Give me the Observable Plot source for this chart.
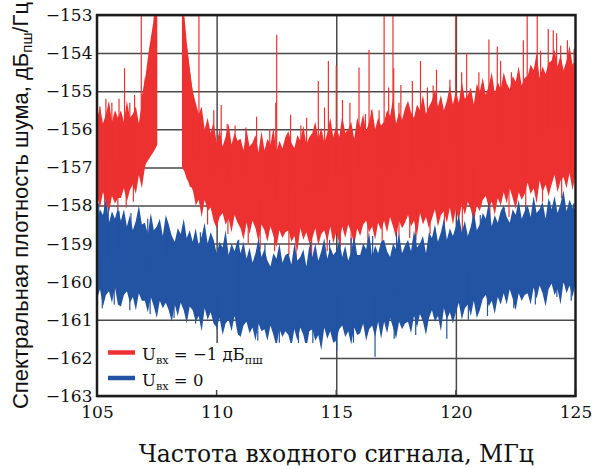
<!DOCTYPE html>
<html>
<head>
<meta charset="utf-8">
<script src="https://cdn.jsdelivr.net/npm/d3@7"></script>
<script src="https://cdn.jsdelivr.net/npm/@observablehq/plot@0.6"></script>
<style>
  body { margin: 0; background: #fff; }
  svg { display: block; }
</style>
</head>
<body>
<div id="chart"></div>
<script>
// Frequency grid of the band edges: 105 MHz, then every 0.125 MHz (one row = 1 MHz)
const freqStart = 105;
const freqStep = 0.125;

// Input at -1 dBFS: upper edge of the noise band, dBFS/Hz (null where the carrier is off scale)
const redHi = [
  -155.75, -155.4, -155.85, -155.6, -155.25, -155.8, -155.5, -155.7,
  -155.5, -155.8, -155.25, -155.7, -155.6, -155.4, -155.85, -155.3,
  -154.6, null, null, null, null, null, null, null,
  null, null, null, null, null, null, -153.8, -154.4,
  -155.0, -155.3, -155.6, -155.4, -156.0, -155.7, -156.1, -155.8,
  -156.35, -156.0, -156.45, -156.2, -155.85, -156.4, -156.1, -156.3,
  -156.25, -156.55, -156.0, -156.45, -156.35, -156.15, -156.6, -156.05,
  -156.55, -156.25, -156.4, -155.95, -156.6, -156.3, -156.5, -156.2,
  -156.05, -156.35, -156.5, -156.15, -156.3, -155.9, -156.4, -156.2,
  -156.1, -155.8, -156.25, -155.95, -156.35, -156.1, -155.7, -156.2,
  -155.9, -156.2, -155.65, -156.1, -156.0, -155.8, -156.25, -155.7,
  -155.95, -155.6, -156.05, -155.8, -155.45, -156.0, -155.7, -155.9,
  -155.8, -155.5, -155.65, -155.2, -155.85, -155.55, -155.75, -155.45,
  -155.25, -155.55, -155.7, -155.35, -155.5, -155.1, -155.6, -155.4,
  -155.25, -154.95, -155.4, -155.1, -155.5, -155.25, -154.85, -155.35,
  -155.0, -155.3, -154.75, -155.2, -155.1, -154.9, -155.35, -154.8,
  -155.0, -154.65, -155.1, -154.85, -154.5, -155.05, -154.75, -154.95,
  -154.5, -154.8, -154.95, -154.6, -154.75, -154.35, -154.85, -154.65,
  -154.6, -154.3, -154.45, -154.0, -154.65, -154.35, -154.55, -154.25,
  -154.2, -153.9, -154.35, -154.05, -154.45, -154.2, -153.8, -154.3,
  -154.2
];
// Input at -1 dBFS: lower edge of the noise band
const redLo = [
  -157.75, -158.05, -157.65, -157.9, -158.2, -157.75, -157.95, -157.8,
  -157.8, -157.55, -157.9, -157.6, -157.45, -157.7, -157.2, -157.55,
  -157.0, null, null, null, null, null, null, null,
  null, null, null, null, null, null, -157.2, -157.5,
  -157.55, -158.0, -157.85, -158.3, -157.85, -158.15, -158.05, -158.4,
  -158.6, -158.3, -158.2, -158.5, -158.35, -158.7, -158.25, -158.45,
  -158.6, -158.9, -158.45, -158.75, -158.4, -158.6, -158.95, -158.5,
  -158.65, -158.95, -158.55, -158.8, -159.1, -158.65, -158.85, -158.7,
  -158.65, -158.95, -158.8, -159.2, -158.6, -158.9, -158.7, -159.0,
  -158.85, -158.6, -159.05, -158.75, -158.65, -158.95, -158.55, -159.0,
  -158.7, -159.0, -158.55, -158.85, -158.5, -158.7, -159.05, -158.6,
  -158.8, -158.5, -158.4, -158.7, -158.55, -158.9, -158.45, -158.65,
  -158.4, -158.7, -158.3, -158.55, -158.85, -158.4, -158.6, -158.45,
  -158.25, -158.55, -158.4, -158.8, -158.2, -158.5, -158.3, -158.6,
  -158.35, -158.1, -158.55, -158.25, -158.15, -158.45, -158.05, -158.5,
  -158.1, -158.4, -157.95, -158.25, -157.9, -158.1, -158.45, -158.0,
  -158.15, -157.85, -157.75, -158.05, -157.9, -158.25, -157.8, -158.0,
  -157.65, -157.95, -157.55, -157.8, -158.1, -157.65, -157.85, -157.7,
  -157.4, -157.7, -157.55, -157.95, -157.35, -157.65, -157.45, -157.75,
  -157.45, -157.2, -157.65, -157.35, -157.25, -157.55, -157.15, -157.6,
  -157.2
];

// Skirts of the carrier near 108 MHz (it runs off the top of the scale)
const carrierFreq = [106.85, 106.95, 107.05, 107.15, 107.25, 107.35, 107.45, 107.52,
                     108.55, 108.65, 108.75, 108.85, 108.95, 109.05];
const carrierSide = ["left", "left", "left", "left", "left", "left", "left", "left",
                     "right", "right", "right", "right", "right", "right"];
const carrierLo = [-157.2, -157.1, -156.9, -156.8, -156.7, -156.6, -156.5, -156.4,
                   -157.0, -157.1, -157.3, -157.4, -157.5, -157.7];
const carrierHi = [-155.2, -154.9, -154.5, -154.0, -153.6, -153.2, -152.5, -152.5,
                   -152.5, -153.0, -153.7, -154.3, -154.8, -155.2];

// Isolated spikes of the -1 dBFS trace: [MHz, dBFS/Hz]
const redPeaks = [
  [105.1, -155.4], [105.35, -155.2], [105.6, -155.3], [105.9, -155.2], [106.13, -154.4],
  [106.35, -155.3], [106.55, -155.1], [106.83, -152.5], [109.24, -152.5], [109.86, -155.5],
  [110.17, -155.36], [110.42, -155.86], [110.75, -155.9], [111.2, -155.95], [111.65, -155.67],
  [112.2, -156.0], [112.45, -155.3], [112.49, -153.52], [113.07, -155.62], [113.5, -155.9],
  [113.74, -155.7], [114.23, -154.73], [114.49, -155.43], [114.65, -154.21], [114.98, -154.33],
  [115.24, -155.23], [115.55, -155.3], [115.93, -154.38], [116.2, -155.6], [116.35, -153.92],
  [116.45, -155.5], [116.77, -155.5], [116.98, -152.5], [117.17, -154.9], [117.35, -152.5],
  [117.38, -154.4], [117.6, -155.3], [117.68, -154.84], [118.16, -154.73], [118.5, -154.21],
  [118.79, -154.9], [119.03, -154.85], [119.17, -154.44], [119.73, -154.7], [119.97, -152.5],
  [120.22, -154.5], [120.43, -154.0], [120.94, -154.5], [121.36, -153.64], [121.71, -153.83],
  [121.85, -154.2], [122.3, -154.5], [122.8, -153.66], [122.96, -152.5], [123.38, -152.5],
  [123.52, -153.94], [123.84, -153.37], [124.05, -153.4], [124.19, -153.48], [124.36, -153.8],
  [124.64, -153.66], [124.92, -153.9]
];
const redDips = [
  [105.3, -158.15], [105.85, -158.1], [106.2, -158.05], [106.5, -157.9], [109.6, -158.5],
  [110.45, -158.75], [111.3, -159.0], [111.8, -159.15], [112.4, -159.2], [113.0, -159.3],
  [113.3, -159.4], [113.95, -159.4], [114.6, -159.2], [115.15, -159.1], [115.6, -159.3],
  [116.3, -159.05], [116.9, -158.95], [117.6, -159.0], [118.05, -158.85], [118.3, -158.9],
  [118.9, -158.75], [119.5, -158.7], [120.25, -159.0], [120.7, -158.5], [121.4, -158.3],
  [122.2, -158.3], [122.9, -158.1], [123.6, -157.9], [124.4, -157.8]
];

// No input signal: upper and lower edge of the noise band
const blueHi = [
  -158.4, -158.1, -158.25, -157.8, -158.45, -158.15, -158.35, -158.05,
  -158.4, -158.1, -158.55, -158.25, -158.65, -158.4, -158.0, -158.5,
  -158.45, -158.75, -158.2, -158.65, -158.55, -158.35, -158.8, -158.25,
  -158.5, -158.8, -158.95, -158.6, -158.75, -158.35, -158.85, -158.65,
  -158.95, -158.6, -159.05, -158.8, -158.45, -159.0, -158.7, -158.9,
  -159.25, -158.95, -159.1, -158.65, -159.3, -159.0, -159.2, -158.9,
  -159.25, -158.95, -159.4, -159.1, -159.5, -159.25, -158.85, -159.35,
  -159.15, -159.45, -159.6, -159.25, -159.4, -159.0, -159.5, -159.3,
  -159.25, -159.55, -159.0, -159.45, -159.35, -159.15, -159.6, -159.05,
  -159.35, -159.0, -159.45, -159.2, -158.85, -159.4, -159.1, -159.3,
  -159.2, -158.9, -159.35, -159.05, -159.45, -159.2, -158.8, -159.3,
  -159.3, -159.0, -159.15, -158.7, -159.35, -159.05, -159.25, -158.95,
  -158.9, -159.2, -159.35, -159.0, -159.15, -158.75, -159.25, -159.05,
  -158.9, -159.2, -158.65, -159.1, -159.0, -158.8, -159.25, -158.7,
  -158.85, -158.5, -158.95, -158.7, -158.35, -158.9, -158.6, -158.8,
  -158.55, -158.25, -158.7, -158.4, -158.8, -158.55, -158.15, -158.65,
  -158.5, -158.2, -158.35, -157.9, -158.55, -158.25, -158.45, -158.15,
  -158.0, -158.3, -158.45, -158.1, -158.25, -157.85, -158.35, -158.15,
  -158.0, -158.3, -157.75, -158.2, -158.1, -157.9, -158.35, -157.8,
  -158.1, -157.75, -158.2, -157.95, -157.6, -158.15, -157.85, -158.05,
  -158.1
];
const blueLo = [
  -160.45, -160.2, -160.65, -160.35, -160.25, -160.55, -160.15, -160.6,
  -160.65, -160.35, -160.25, -160.55, -160.4, -160.75, -160.3, -160.5,
  -160.5, -160.8, -160.4, -160.65, -160.95, -160.5, -160.7, -160.55,
  -160.75, -161.05, -160.6, -160.9, -160.55, -160.75, -161.1, -160.65,
  -160.75, -161.05, -160.9, -161.3, -160.7, -161.0, -160.8, -161.1,
  -161.2, -160.95, -161.4, -161.1, -161.0, -161.3, -160.9, -161.35,
  -161.45, -161.15, -161.05, -161.35, -161.2, -161.55, -161.1, -161.3,
  -161.25, -161.55, -161.15, -161.4, -161.7, -161.25, -161.45, -161.3,
  -161.4, -161.7, -161.25, -161.55, -161.2, -161.4, -161.75, -161.3,
  -161.25, -161.55, -161.4, -161.8, -161.2, -161.5, -161.3, -161.6,
  -161.55, -161.25, -161.15, -161.45, -161.3, -161.65, -161.2, -161.4,
  -161.35, -161.1, -161.55, -161.25, -161.15, -161.45, -161.05, -161.5,
  -161.05, -161.35, -160.95, -161.2, -161.5, -161.05, -161.25, -161.1,
  -161.05, -161.35, -160.9, -161.2, -160.85, -161.05, -161.4, -160.95,
  -160.75, -161.05, -160.9, -161.3, -160.7, -161.0, -160.8, -161.1,
  -160.8, -160.55, -161.0, -160.7, -160.6, -160.9, -160.5, -160.95,
  -160.75, -160.45, -160.35, -160.65, -160.5, -160.85, -160.4, -160.6,
  -160.3, -160.6, -160.2, -160.45, -160.75, -160.3, -160.5, -160.35,
  -160.3, -160.6, -160.15, -160.45, -160.1, -160.3, -160.65, -160.2,
  -160.05, -160.35, -160.2, -160.6, -160.0, -160.3, -160.1, -160.4,
  -160.05
];
const bluePeaks = [
  [105.05, -157.95], [105.45, -158.05], [105.9, -158.15], [106.4, -158.2], [107.1, -158.35],
  [107.9, -158.5], [108.6, -158.6], [109.3, -158.7], [110.9, -158.9], [112.0, -159.0],
  [113.9, -158.95], [114.7, -158.9], [115.6, -158.85], [116.5, -158.8], [117.5, -158.7],
  [118.3, -158.75], [119.1, -158.6], [120.1, -158.4], [121.0, -158.25], [122.0, -158.05],
  [122.9, -158.0], [123.9, -157.9], [124.45, -157.85], [124.9, -157.95]
];
const blueDips = [
  [105.2, -160.7], [105.7, -160.6], [106.35, -160.75], [107.2, -160.85], [108.2, -160.95],
  [109.1, -161.1], [110.0, -161.25], [110.9, -161.4], [111.7, -161.55], [112.6, -161.6],
  [113.4, -161.7], [114.0, -161.77], [115.0, -161.8], [115.7, -161.6], [116.6, -161.97],
  [117.4, -161.5], [118.3, -161.4], [119.6, -161.5], [120.5, -161.0], [121.3, -160.9],
  [122.4, -160.7], [123.3, -160.6], [124.2, -160.4], [124.8, -160.5]
];

const xTicks = [105, 110, 115, 120, 125];
const xGrid = [110, 115, 120];
const yTicks = [-163, -162, -161, -160, -159, -158, -157, -156, -155, -154, -153];

const RED = "#ec3130";
const BLUE = "#2254a3";
const GRID = "#4a4a4a";

const band = (lo, hi) => lo.map((v, i) => ({f: freqStart + i * freqStep, lo: v, hi: hi[i]}));
const redBand = band(redLo, redHi);
const blueBand = band(blueLo, blueHi);
const carrier = carrierFreq.map((f, i) => ({f, side: carrierSide[i], lo: carrierLo[i], hi: carrierHi[i]}));

// spikes start from the middle of the band at the nearest grid sample
function spikes(list, lo, hi) {
  return list.map(([f, v]) => {
    const i = Math.round((f - freqStart) / freqStep);
    const base = lo[i] == null ? v : (lo[i] + hi[i]) / 2;
    return {f, base, v};
  });
}

const spikeStyle = {x: "f", y1: "base", y2: "v", strokeWidth: 1.2, clip: true};

const chart = Plot.plot({
  width: 594,
  height: 469,
  marginLeft: 97,
  marginRight: 18.5,
  marginTop: 15,
  marginBottom: 73,
  style: {fontFamily: "DejaVu Serif", fontSize: "17px", color: "#111", background: "#fff"},
  x: {domain: [105, 125], ticks: xTicks, tickSize: 0, tickPadding: 9, label: null, tickFormat: d => String(d)},
  y: {domain: [-163, -153], ticks: yTicks, tickSize: 0, tickPadding: 5, label: null,
      tickFormat: d => "\u2212" + Math.abs(d)},
  marks: [
    Plot.ruleY(yTicks, {stroke: GRID, strokeWidth: 1.5}),
    Plot.ruleX(xGrid, {stroke: GRID, strokeWidth: 1.5}),
    Plot.areaY(redBand, {x: "f", y1: "lo", y2: "hi", fill: RED, clip: true}),
    Plot.areaY(carrier, {x: "f", y1: "lo", y2: "hi", z: "side", fill: RED, clip: true}),
    Plot.ruleX(spikes(redPeaks, redLo, redHi), {...spikeStyle, stroke: RED}),
    Plot.ruleX(spikes(redDips, redLo, redHi), {...spikeStyle, stroke: RED}),
    Plot.areaY(blueBand, {x: "f", y1: "lo", y2: "hi", fill: BLUE, clip: true}),
    Plot.ruleX(spikes(bluePeaks, blueLo, blueHi), {...spikeStyle, stroke: BLUE}),
    Plot.ruleX(spikes(blueDips, blueLo, blueHi), {...spikeStyle, stroke: BLUE})
  ]
});

const NS = "http://www.w3.org/2000/svg";
function el(tag, attrs, parent) {
  const e = document.createElementNS(NS, tag);
  for (const k in attrs) e.setAttribute(k, attrs[k]);
  parent.appendChild(e);
  return e;
}
// text with subscript runs: parts = [[string, isSub], ...]
function richText(parent, attrs, parts, subShift) {
  const t = el("text", attrs, parent);
  let down = false;
  for (const [s, sub] of parts) {
    const ts = el("tspan", {}, t);
    if (sub) {
      ts.setAttribute("font-size", "0.68em");
      if (!down) { ts.setAttribute("dy", subShift); down = true; }
    } else if (down) {
      ts.setAttribute("dy", -subShift); down = false;
    }
    ts.textContent = s;
  }
  return t;
}

const sx = chart.scale("x"), sy = chart.scale("y");
const fLeft = sx.apply(105), fRight = sx.apply(125), fTop = sy.apply(-153), fBottom = sy.apply(-163);

// legend in the lower-left corner of the frame
const lg = el("g", {"text-anchor": "start"}, chart);
el("rect", {x: fLeft, y: 343, width: 320 - fLeft, height: fBottom - 343, fill: "#fff"}, lg);
el("line", {x1: 108, x2: 135, y1: 352.5, y2: 352.5, stroke: RED, "stroke-width": 4.5}, lg);
el("line", {x1: 108, x2: 135, y1: 378, y2: 378, stroke: BLUE, "stroke-width": 4.5}, lg);
const lgFont = {"font-family": "DejaVu Serif", "font-size": 16.5, fill: "#111", "text-anchor": "start"};
richText(lg, {...lgFont, x: 142, y: 360}, [["U", false], ["вх", true], [" = \u22121 дБ", false], ["пш", true]], 4);
richText(lg, {...lgFont, x: 142, y: 386}, [["U", false], ["вх", true], [" = 0", false]], 4);

// inner tick marks along the bottom edge
for (const t of xTicks) {
  el("line", {x1: sx.apply(t), x2: sx.apply(t), y1: fBottom - 6, y2: fBottom, stroke: GRID, "stroke-width": 1.5}, chart);
}

// frame
el("rect", {x: fLeft, y: fTop, width: fRight - fLeft, height: fBottom - fTop, fill: "none", stroke: "#1c1c1c", "stroke-width": 2.5}, chart);

// axis titles
el("text", {x: (fLeft + fRight) / 2, y: 462, "text-anchor": "middle", "font-family": "DejaVu Serif",
            "font-size": 23.5, fill: "#111"}, chart).textContent = "Частота входного сигнала, МГц";
richText(chart, {transform: `translate(28,${(fTop + fBottom) / 2}) rotate(-90)`, "text-anchor": "middle",
                 "font-family": "Liberation Sans", "font-size": 22, fill: "#111"},
         [["Спектральная плотность шума, дБ", false], ["пш", true], ["/Гц", false]], 4);

document.getElementById("chart").appendChild(chart);
</script>
</body>
</html>
